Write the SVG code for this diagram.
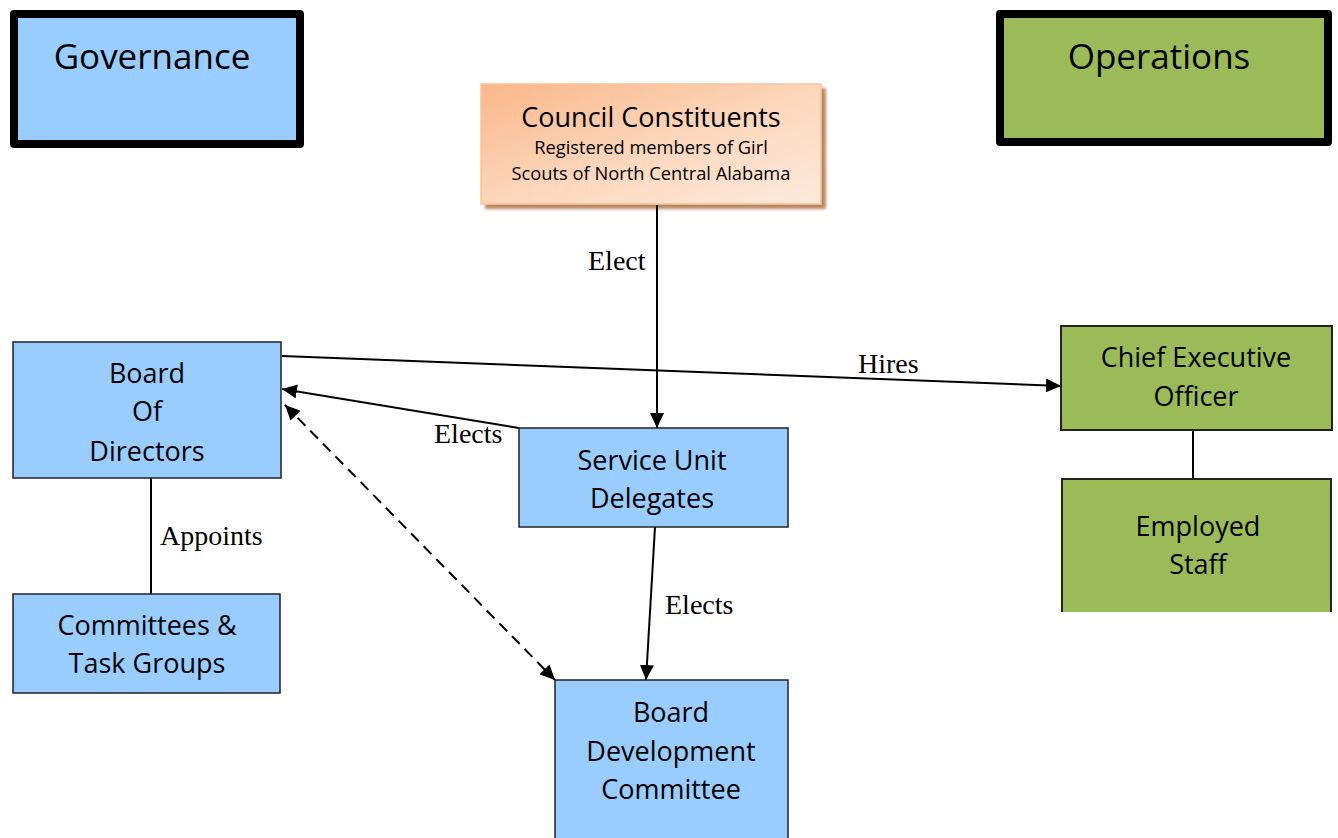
<svg xmlns="http://www.w3.org/2000/svg" width="1338" height="838" viewBox="0 0 1338 838">
<style>
.sans{font-family:"Open Sans","Noto Sans","DejaVu Sans",sans-serif;fill:#000;text-anchor:middle}
.lbl{font-family:"Liberation Serif","DejaVu Serif",serif;font-size:28px;fill:#000}
.blue{fill:#99CCFF;stroke:#222;stroke-width:1.5}
.green{fill:#9BBB59;stroke:#222;stroke-width:2}
.hdr{stroke:#000;stroke-width:8;stroke-linejoin:round}
.conn{stroke:#000;stroke-width:2;fill:none}
</style>
<defs>
<marker id="arr" markerUnits="userSpaceOnUse" markerWidth="16" markerHeight="14" refX="15" refY="7" orient="auto-start-reverse">
<path d="M0,0 L15,7 L0,14 z" fill="#000"/>
</marker>
<linearGradient id="org" x1="0" y1="0" x2="1" y2="1">
<stop offset="0" stop-color="#F9B789"/>
<stop offset="0.55" stop-color="#FCD8BE"/>
<stop offset="1" stop-color="#FDEADC"/>
</linearGradient>
<filter id="blur" x="-5%" y="-5%" width="110%" height="110%"><feGaussianBlur stdDeviation="1.5"/></filter>
</defs>
<rect width="1338" height="838" fill="#fff"/>

<g id="governance">
<rect class="hdr" x="14" y="14" width="286" height="130" fill="#99CCFF"/>
<text class="sans" x="152" y="69" font-size="35">Governance</text>
</g>

<g id="operations">
<rect class="hdr" x="1000" y="14" width="328" height="128" fill="#9BBB59"/>
<text class="sans" x="1159" y="69" font-size="35">Operations</text>
</g>

<g id="council">
<rect x="485" y="88" width="341" height="121" fill="#B98862" filter="url(#blur)"/>
<rect x="481" y="84" width="340" height="120" fill="url(#org)" stroke="#F7C49E" stroke-width="1.5"/>
<text class="sans" x="651" y="127" font-size="27">Council Constituents</text>
<text class="sans" x="651" y="154" font-size="18.3">Registered members of Girl</text>
<text class="sans" x="651" y="180" font-size="18.3">Scouts of North Central Alabama</text>
</g>

<g id="connectors">
<line class="conn" x1="657" y1="205" x2="657" y2="428" marker-end="url(#arr)"/>
<line class="conn" x1="282" y1="356" x2="1061" y2="386" marker-end="url(#arr)"/>
<line class="conn" x1="519" y1="428" x2="282" y2="389" marker-end="url(#arr)"/>
<line class="conn" x1="285" y1="405" x2="555" y2="680" stroke-dasharray="11,7" marker-start="url(#arr)" marker-end="url(#arr)"/>
<line class="conn" x1="655" y1="527" x2="646" y2="680" marker-end="url(#arr)"/>
<line class="conn" x1="151" y1="478" x2="151" y2="594"/>
<line class="conn" x1="1193" y1="430" x2="1193" y2="478"/>
<text class="lbl" x="588" y="270">Elect</text>
<text class="lbl" x="858" y="373">Hires</text>
<text class="lbl" x="434" y="443">Elects</text>
<text class="lbl" x="665" y="614">Elects</text>
<text class="lbl" x="160" y="545">Appoints</text>
</g>

<g id="board">
<rect class="blue" x="13" y="342" width="268" height="136"/>
<text class="sans" x="147" y="383" font-size="27">Board</text>
<text class="sans" x="147" y="421" font-size="27">Of</text>
<text class="sans" x="147" y="461" font-size="27">Directors</text>
</g>

<g id="committees">
<rect class="blue" x="13" y="594" width="267" height="99"/>
<text class="sans" x="147" y="635" font-size="27">Committees &amp;</text>
<text class="sans" x="147" y="673" font-size="27">Task Groups</text>
</g>

<g id="service-unit">
<rect class="blue" x="519" y="428" width="269" height="99"/>
<text class="sans" x="652" y="470" font-size="27">Service Unit</text>
<text class="sans" x="652" y="508" font-size="27">Delegates</text>
</g>

<g id="bdc">
<rect class="blue" x="555" y="680" width="233" height="170"/>
<text class="sans" x="671" y="722" font-size="27">Board</text>
<text class="sans" x="671" y="761" font-size="27">Development</text>
<text class="sans" x="671" y="799" font-size="27">Committee</text>
</g>

<g id="ceo">
<rect class="green" x="1061" y="326" width="271" height="104"/>
<text class="sans" x="1196" y="367" font-size="27">Chief Executive</text>
<text class="sans" x="1196" y="406" font-size="27">Officer</text>
</g>

<g id="staff">
<rect x="1061" y="478" width="271" height="134" fill="#9BBB59"/>
<path d="M1062,612 L1062,479 L1331,479 L1331,612" fill="none" stroke="#222" stroke-width="2"/>
<text class="sans" x="1198" y="536" font-size="27">Employed</text>
<text class="sans" x="1198" y="574" font-size="27">Staff</text>
</g>
</svg>
